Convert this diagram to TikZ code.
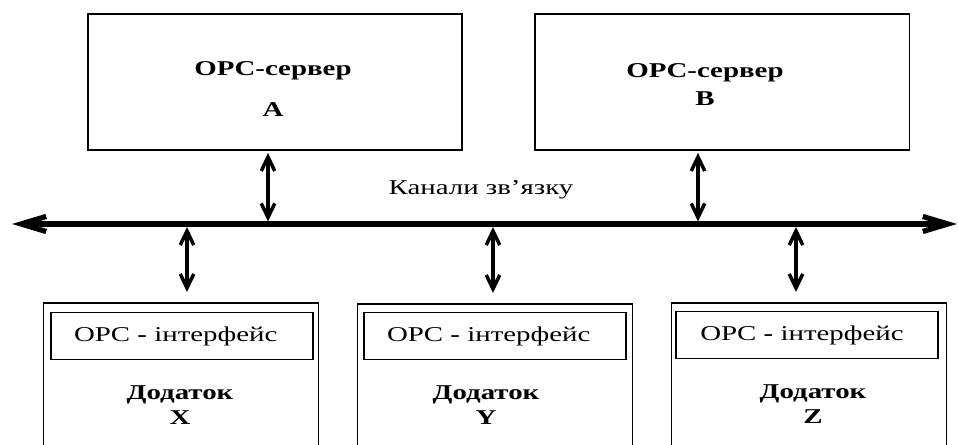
\documentclass[tikz,border=0pt]{standalone}
\usepackage{fontspec}
\setmainfont[FakeStretch=1.37]{Liberation Serif}
\usepackage{tikz}
\usetikzlibrary{arrows.meta,positioning,calc}

\begin{document}
\begin{tikzpicture}[x=0.02cm,y=-0.02cm,
    every node/.style={font=\large,inner sep=0pt,align=center},
    srvbox/.style={draw,line width=1.1pt,minimum width=7.5cm,minimum height=2.72cm},
    appbox/.style={draw,line width=1.1pt,minimum width=5.5cm,minimum height=4cm,anchor=north},
    ifbox/.style={draw,line width=0.8pt,minimum width=5.24cm,minimum height=0.94cm,anchor=north},
    bus/.style={line width=3pt,{Straight Barb[length=0.5cm,width=0.3cm]}-{Straight Barb[length=0.5cm,width=0.3cm]}},
    link/.style={line width=2pt,{Straight Barb[length=0.28cm,width=0.27cm]}-{Straight Barb[length=0.28cm,width=0.27cm]}}]
            \clip (0,0) rectangle (958,445);
            \node[srvbox] (srvA) at (275,82) {};
            \node[srvbox] (srvB) at (722,82) {};
            \node (txtA) at (273,89) {\textbf{OPC-сервер}\\[9pt]\textbf{A}};
            \node (txtB) at (705,85) {\textbf{OPC-сервер}\\[2pt]\textbf{B}};
            \node (chan) at (481,190) {Канали зв’язку};
            \node[appbox] (appX) at (181,302) {};
            \node[appbox] (appY) at (495,303) {};
            \node[appbox] (appZ) at (809,302) {};
            \node[ifbox] (ifX) at (182,312) {OPC \textbf{-} інтерфейс\hspace*{0.25cm}};
            \node[ifbox] (ifY) at (495,312) {OPC \textbf{-} інтерфейс\hspace*{0.25cm}};
            \node[ifbox] (ifZ) at (807,311) {OPC \textbf{-} інтерфейс\hspace*{0.2cm}};
            \node (nameX) at (180,405) {\textbf{Додаток}\\\textbf{X}};
            \node (nameY) at (486,405) {\textbf{Додаток}\\\textbf{Y}};
            \node (nameZ) at (813,404) {\textbf{Додаток}\\\textbf{Z}};
            \coordinate (busL) at (12,224);
            \coordinate (busR) at (957,224);
            \coordinate (tapA) at (268,224);
            \coordinate (tapB) at (698,224);
            \coordinate (tapX) at (187,224);
            \coordinate (tapY) at (493,224);
            \coordinate (tapZ) at (796,224);
            \draw[bus] (busL) -- (busR);
            \draw[link,shorten <=0.04cm,shorten >=0.05cm] (tapA |- srvA.south) -- (tapA);
            \draw[link,shorten <=0.04cm,shorten >=0.05cm] (tapB |- srvB.south) -- (tapB);
            \draw[link,shorten <=0.06cm,shorten >=0.2cm] (tapX) -- (tapX |- appX.north);
            \draw[link,shorten <=0.06cm,shorten >=0.2cm] (tapY) -- (tapY |- appY.north);
            \draw[link,shorten <=0.06cm,shorten >=0.2cm] (tapZ) -- (tapZ |- appZ.north);
\end{tikzpicture}
\end{document}
